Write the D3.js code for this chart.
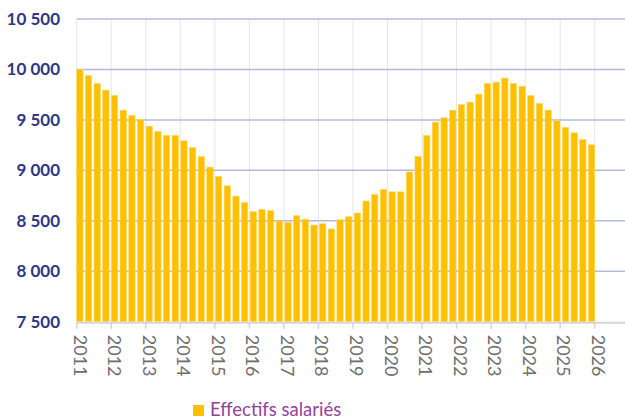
<!DOCTYPE html>
<html>
<head>
<meta charset="utf-8">
<script src="https://cdn.jsdelivr.net/npm/d3@7"></script>
<style>
  body { margin: 0; background: #fff; }
  svg { display: block; font-family: Lato, "Open Sans", sans-serif; }
</style>
</head>
<body>
<svg id="chart" width="625" height="420"></svg>
<script>
// quarterly values, 2011 Q1 -> 2025 Q4
const quarters = d3.range(2011, 2026).flatMap(y => [1, 2, 3, 4].map(q => `${y}T${q}`));
const effectifs = [
  10000, 9940, 9861, 9795, 9742, 9597, 9544, 9504,
  9438, 9386, 9346, 9346, 9293, 9227, 9138, 9032,
  8940, 8847, 8744, 8680, 8590, 8614, 8600, 8498,
  8485, 8550, 8515, 8458, 8471, 8419, 8510, 8540,
  8577, 8696, 8762, 8812, 8787, 8787, 8984, 9138,
  9346, 9478, 9521, 9597, 9650, 9676, 9755, 9861,
  9874, 9914, 9861, 9834, 9742, 9663, 9597, 9491,
  9425, 9372, 9306, 9253
];
const yTicks = [7500, 8000, 8500, 9000, 9500, 10000, 10500];
const years = d3.range(2011, 2027);
const legendLabel = "Effectifs salariés";

(() => {
  const svg = d3.select("#chart");
  const plot = { left: 76.7, right: 594.7, edge: 625, top: 19, bottom: 321.7 };

  const x = d3.scaleBand().domain(quarters).range([plot.left, plot.right]).paddingInner(0.27).paddingOuter(0);
  const xYear = d3.scaleLinear().domain([2011, 2026]).range([plot.left, plot.right]);
  const y = d3.scaleLinear().domain([7500, 10500]).range([plot.bottom, plot.top]);

  const fmt = v => d3.format(",")(v).replace(/,/g, " ");

  // vertical grid
  svg.append("g").selectAll("line").data(years).join("line")
    .attr("x1", d => xYear(d)).attr("x2", d => xYear(d))
    .attr("y1", plot.top).attr("y2", plot.bottom)
    .attr("stroke", "#e6e6e6").attr("stroke-width", 1);

  // horizontal grid
  svg.append("g").selectAll("line").data(yTicks.slice(1)).join("line")
    .attr("x1", plot.left).attr("x2", plot.edge)
    .attr("y1", d => y(d)).attr("y2", d => y(d))
    .attr("stroke", "#b4bade").attr("stroke-width", 1.5);

  // bars
  svg.append("g").selectAll("rect").data(effectifs).join("rect")
    .attr("x", (d, i) => x(quarters[i]))
    .attr("width", x.bandwidth())
    .attr("y", d => y(d))
    .attr("height", d => y(7500) - y(d))
    .attr("fill", "#ffc000")
    .attr("stroke", "#ffd75a").attr("stroke-width", 0.6);

  // bottom axis line + ticks
  svg.append("line")
    .attr("x1", plot.left).attr("x2", plot.edge)
    .attr("y1", plot.bottom + 1).attr("y2", plot.bottom + 1)
    .attr("stroke", "#d6d6d6").attr("stroke-width", 2);
  svg.append("g").selectAll("line").data(years).join("line")
    .attr("x1", d => xYear(d)).attr("x2", d => xYear(d))
    .attr("y1", plot.bottom + 1).attr("y2", plot.bottom + 7)
    .attr("stroke", "#d6d6d6").attr("stroke-width", 1.5);

  // year labels, rotated
  svg.append("g").selectAll("text").data(years).join("text")
    .attr("transform", d => `translate(${xYear(d) - 3},${plot.bottom + 13}) rotate(90)`)
    .attr("font-size", 18).attr("fill", "#6e6e6e")
    .text(d => d);

  // y labels
  svg.append("g").selectAll("text").data(yTicks).join("text")
    .attr("x", 60).attr("y", d => y(d) + 6)
    .attr("text-anchor", "end")
    .attr("font-size", 17).attr("font-weight", "bold").attr("fill", "#2e3786")
    .text(fmt);

  // legend
  const leg = svg.append("g").attr("transform", "translate(193,405)");
  leg.append("rect").attr("width", 11).attr("height", 11).attr("fill", "#ffc000");
  leg.append("text").attr("x", 17).attr("y", 11)
    .attr("font-size", 18.5).attr("fill", "#93429a")
    .text(legendLabel);
})();
</script>
</body>
</html>
